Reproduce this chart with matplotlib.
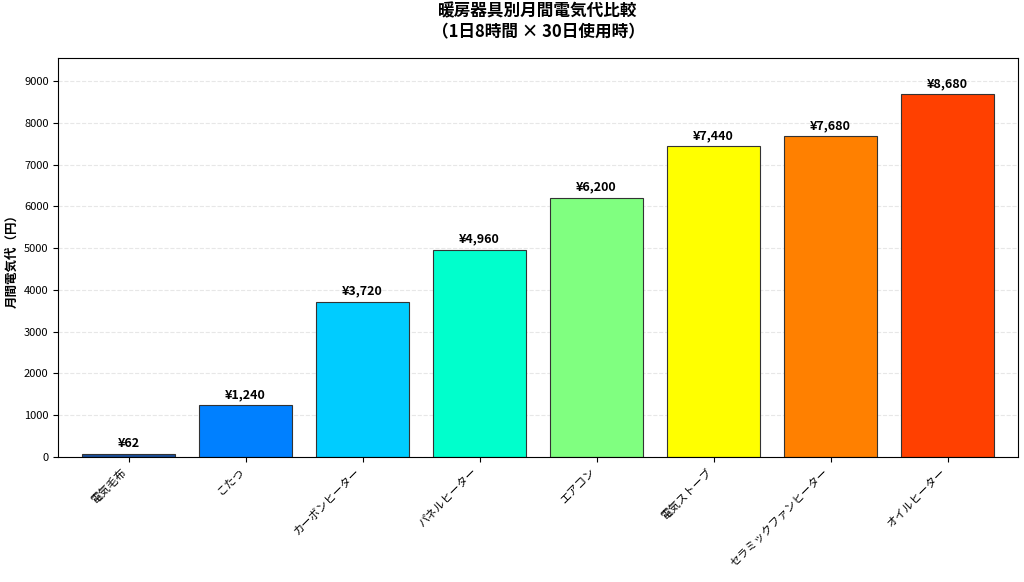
import matplotlib
matplotlib.use("Agg")
import matplotlib.pyplot as plt
import numpy as np

plt.rcParams["font.family"] = "Noto Sans CJK JP"

categories = ["電気毛布", "こたつ", "カーボンヒーター", "パネルヒーター", "エアコン", "電気ストーブ", "セラミックファンヒーター", "オイルヒーター"]
values = [62, 1240, 3720, 4960, 6200, 7440, 7680, 8680]
colors = ["#1a4f9c", "#0080ff", "#00ccff", "#00ffcc", "#80ff80", "#ffff00", "#ff8000", "#ff4000"]

fig = plt.figure(figsize=(10.24, 5.82), dpi=100)
ax = fig.add_axes([0.057, 0.215, 0.937, 0.685])
x = np.arange(len(categories))
ax.bar(x, values, color=colors, edgecolor="#333333", linewidth=0.8)
for xi, v in zip(x, values):
    ax.text(xi, v + 100, f"¥{v:,}", ha="center", va="bottom", fontsize=9, fontweight="bold")
ax.set_xticks(x)
ax.set_xticklabels(categories, rotation=45, ha="right", fontsize=8)
ax.tick_params(axis="y", labelsize=8)
ax.set_xlim(-0.6, 7.6)
ax.set_ylim(0, 9548)
ax.set_yticks(range(0, 9001, 1000))
ax.set_xlabel("暖房器具", fontsize=9, fontweight="bold", labelpad=35)
ax.set_ylabel("月間電気代（円）", fontsize=9, fontweight="bold")
ax.set_title("暖房器具別月間電気代比較\n（1日8時間 × 30日使用時）", fontsize=12, fontweight="bold", pad=15)
ax.grid(axis="y", alpha=0.3, linestyle="--")
ax.set_axisbelow(True)
fig.savefig("out.png", dpi=100)
